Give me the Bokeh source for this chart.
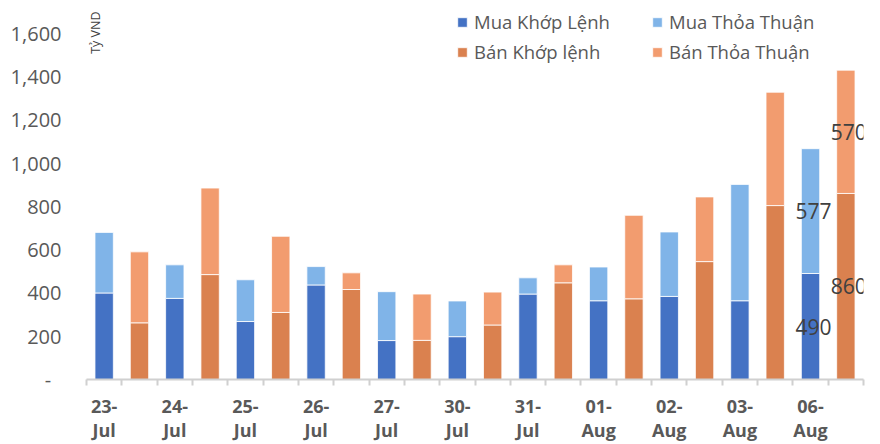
from bokeh.plotting import figure
from bokeh.models import (ColumnDataSource, FixedTicker, NumeralTickFormatter, Legend,
                          LegendItem, Label, Range1d)
from bokeh.core.properties import value
from bokeh.embed import file_html
from bokeh.resources import INLINE

# ---- data ----
dates = ["23-\nJul", "24-\nJul", "25-\nJul", "26-\nJul", "27-\nJul", "30-\nJul",
         "31-\nJul", "01-\nAug", "02-\nAug", "03-\nAug", "06-\nAug"]
mua_khop = [400, 375, 268, 437, 180, 198, 395, 364, 384, 364, 490]
mua_thoa = [280, 155, 193, 85, 226, 165, 75, 156, 298, 538, 577]
ban_khop = [262, 485, 310, 416, 181, 252, 447, 373, 545, 804, 860]
ban_thoa = [328, 400, 352, 77, 214, 152, 83, 386, 299, 524, 570]
y_ticks = [0, 200, 400, 600, 800, 1000, 1200, 1400, 1600]
unit_label = "Tỷ VND"
series_names = ["Mua Khớp Lệnh", "Mua Thỏa Thuận", "Bán Khớp lệnh", "Bán Thỏa Thuận"]

FONT = "Open Sans"
C_MKL = "#4472C4"
C_MTT = "#80B4E8"
C_BKL = "#DA814F"
C_BTT = "#F29C6F"
TXT = "#595959"

n = len(dates)
x_buy = [2 * i + 0.5 for i in range(n)]
x_sell = [2 * i + 1.5 for i in range(n)]

src = ColumnDataSource(dict(x_buy=x_buy, x_sell=x_sell, mua_khop=mua_khop,
                            mua_thoa=mua_thoa, ban_khop=ban_khop, ban_thoa=ban_thoa))

p = figure(width=880, height=444, x_range=Range1d(0, 2 * n), y_range=Range1d(0, 1752),
           output_backend="svg", toolbar_location=None,
           min_border_left=86, min_border_right=17, min_border_top=0, min_border_bottom=64)
p.outline_line_color = None
p.xgrid.grid_line_color = None
p.ygrid.grid_line_color = None

r_buy = p.vbar_stack(["mua_khop", "mua_thoa"], x="x_buy", width=0.52, source=src,
                     fill_color=[C_MKL, C_MTT], line_color="white", line_width=0.8)
r_sell = p.vbar_stack(["ban_khop", "ban_thoa"], x="x_sell", width=0.52, source=src,
                      fill_color=[C_BKL, C_BTT], line_color="white", line_width=0.8)

# data labels for last date
lab_src = ColumnDataSource(dict(
    x=[x_buy[-1], x_buy[-1], x_sell[-1], x_sell[-1]],
    y=[mua_khop[-1] / 2, mua_khop[-1] + mua_thoa[-1] / 2,
       ban_khop[-1] / 2, ban_khop[-1] + ban_thoa[-1] / 2],
    t=[str(mua_khop[-1]), str(mua_thoa[-1]), str(ban_khop[-1]), str(ban_thoa[-1])]))
p.text(x="x", y="y", text="t", source=lab_src, text_align="center", text_baseline="middle",
       text_font=value(FONT), text_font_size="21px", text_color="#404040", x_offset=3)

# x axis
xa = p.xaxis[0]
xa.ticker = FixedTicker(ticks=x_buy, minor_ticks=list(range(2 * n + 1)))
xa.major_label_overrides = {x: d for x, d in zip(x_buy, dates)}
xa.axis_line_color = "#D0D0D0"
xa.axis_line_width = 2
xa.major_tick_line_color = None
xa.major_tick_out = 0
xa.minor_tick_line_color = "#D0D0D0"
xa.minor_tick_line_width = 2
xa.minor_tick_out = 6
xa.minor_tick_in = 0
xa.major_label_text_font = FONT
xa.major_label_text_font_style = "bold"
xa.major_label_text_font_size = "18px"
xa.major_label_text_color = TXT
xa.major_label_text_line_height = 1.0
xa.major_label_standoff = 8

# y axis
ya = p.yaxis[0]
ya.ticker = FixedTicker(ticks=y_ticks)
ya.formatter = NumeralTickFormatter(format="0,0")
ya.major_label_overrides = {0: "-\u00a0\u00a0"}
ya.axis_line_color = None
ya.major_tick_line_color = None
ya.minor_tick_line_color = None
ya.major_tick_out = 0
ya.major_label_standoff = 25
ya.major_label_text_font = FONT
ya.major_label_text_font_size = "20px"
ya.major_label_text_color = TXT

legend = Legend(items=[
    LegendItem(label=series_names[0], renderers=[r_buy[0]]),
    LegendItem(label=series_names[2], renderers=[r_sell[0]]),
    LegendItem(label=series_names[1], renderers=[r_buy[1]]),
    LegendItem(label=series_names[3], renderers=[r_sell[1]]),
], location=(370, 315), orientation="vertical", nrows=2,
    glyph_width=12, glyph_height=12, label_standoff=6, label_width=172, label_height=24,
    spacing=5, padding=0, border_line_color=None, background_fill_alpha=0,
    label_text_font=FONT, label_text_font_size="18.5px", label_text_color=TXT)
p.add_layout(legend)

p.add_layout(Label(x=0, y=1752, y_offset=-11, x_offset=0, text=unit_label, angle=1.5708,
                   text_align="right", text_baseline="top", text_font=FONT,
                   text_font_size="12.5px", text_color="#404040"))

open("out.html", "w").write(file_html(p, INLINE))
